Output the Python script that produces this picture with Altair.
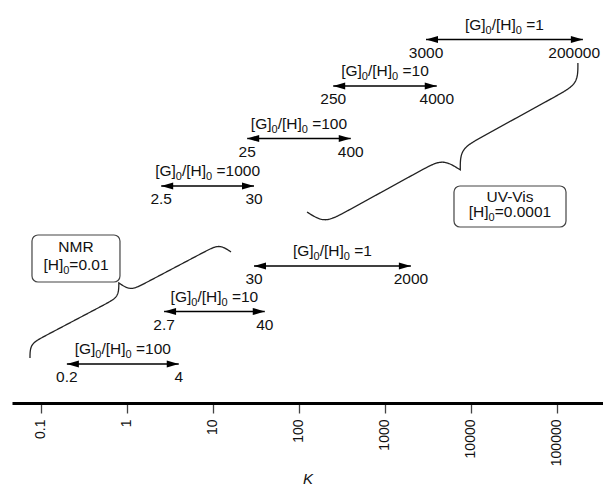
import numpy as np
import pandas as pd
import altair as alt

FONT = "Liberation Sans"
MAIN, SUB = 15.5, 11

# ---------------- data ----------------
ratio_value = ["1", "10", "100", "1000", "1", "10", "100"]
k_low = [3000, 250, 25, 2.5, 30, 2.7, 0.2]
k_high = [200000, 4000, 400, 30, 2000, 40, 4]
k_low_text = ["3000", "250", "25", "2.5", "30", "2.7", "0.2"]
k_high_text = ["200000", "4000", "400", "30", "2000", "40", "4"]
row_level = [7.27, 6.34, 5.29, 4.34, 2.74, 1.83, 0.78]

tick_values = [0.1, 1, 10, 100, 1000, 10000, 100000]
k_domain = [10 ** -1.337, 10 ** 5.535]
level_domain = [0, 8.06]

box_line1 = ["NMR", "UV-Vis"]
box_conc = ["0.01", "0.0001"]
box_k0 = [0.0786, 6344]
box_k1 = [0.829, 127300]
box_top = [3.36, 4.34]
box_bottom = [2.42, 3.52]
box_line1_level = [3.02, 4.02]
box_line2_level = [2.66, 3.72]

brace_k0 = [0.0745, 124]
brace_k1 = [16.2, 175000]
brace_lev0 = [0.9, 3.82]
brace_lev1 = [3.02, 6.8]
brace_depth = [25, 37]
brace_side = [1, -1]
brace_sharp = [0.3, 0.2]

PW, PH = 591, 403

# ---------------- helpers ----------------
lmin, lmax = np.log10(k_domain)
ymin, ymax = level_domain


def to_px(k, lev):
    return ((np.log10(k) - lmin) / (lmax - lmin) * PW,
            PH - (lev - ymin) / (ymax - ymin) * PH)


def from_px(x, y):
    return (10 ** (lmin + np.asarray(x) / PW * (lmax - lmin)),
            ymin + (PH - np.asarray(y)) / PH * (ymax - ymin))


# Arial / Liberation Sans advance widths (per 1000 em)
ADV = {"[": 278, "]": 278, "G": 778, "H": 722, "/": 278, " ": 278, "=": 584,
       ".": 278, "-": 333}


def text_w(s, size):
    return sum(ADV.get(c, 556) for c in s) / 1000 * size


def layout_pieces(pieces, k_center, level, group):
    """pieces: list of (text, kind); kind 'main', 'sub' or 'gap'."""
    widths = [text_w(t, MAIN if kind != "sub" else SUB) for t, kind in pieces]
    cx, _ = to_px(k_center, level)
    x = cx - sum(widths) / 2
    out = []
    for (t, kind), w in zip(pieces, widths):
        if kind != "gap":
            kk, _ = from_px(x, 0)
            out.append({"text": t, "kind": kind, "k": float(kk), "level": level,
                        "group": group})
        x += w
    return out


# ---------------- tables ----------------
arrows = pd.DataFrame({
    "k_low": k_low, "k_high": k_high, "low_text": k_low_text,
    "high_text": k_high_text, "level": row_level,
})
# keep endpoint labels inside the canvas
hx, _ = to_px(arrows["k_high"].values, 0)
hw = np.array([text_w(t, MAIN) for t in k_high_text])
arrows["k_high_anchor"] = from_px(np.minimum(hx, PW - hw / 2 - 3), 0)[0]

label_rows = []
for i, v in enumerate(ratio_value):
    kc = np.sqrt(k_low[i] * k_high[i])
    label_rows += layout_pieces(
        [("[G]", "main"), ("0", "sub"), ("/[H]", "main"), ("0", "sub"),
         (" ", "gap"), ("=" + v, "main")], kc, row_level[i], i)
labels = pd.DataFrame(label_rows)

boxes = pd.DataFrame({
    "line1": box_line1, "k0": box_k0, "k1": box_k1,
    "top": box_top, "bottom": box_bottom, "l1": box_line1_level,
})
boxes["kc"] = np.sqrt(boxes["k0"] * boxes["k1"])
box_rows = []
for i, c in enumerate(box_conc):
    box_rows += layout_pieces([("[H]", "main"), ("0", "sub"), ("=" + c, "main")],
                              boxes["kc"][i], box_line2_level[i], i)
box_pieces = pd.DataFrame(box_rows)

brace_rows = []
for b in range(len(brace_k0)):
    x0, y0 = to_px(brace_k0[b], brace_lev0[b])
    x1, y1 = to_px(brace_k1[b], brace_lev1[b])
    L = np.hypot(x1 - x0, y1 - y0)
    dx, dy = (x1 - x0) / L, (y1 - y0) / L
    nx, ny = dy * brace_side[b], -dx * brace_side[b]
    s = np.linspace(0, L, 401)
    half = L / 2
    sm = np.minimum(s, L - s)
    beta = brace_sharp[b]
    f = 1 / (1 + np.exp(-beta * sm)) + 1 / (1 + np.exp(-beta * (sm - half))) - 0.5
    f = f - f[0]
    f = f / f.max()
    off = brace_depth[b] * f
    kk, ll = from_px(x0 + dx * s + nx * off, y0 + dy * s + ny * off)
    for i in range(len(s)):
        brace_rows.append({"brace": b, "i": i, "k": kk[i], "level": ll[i]})
braces = pd.DataFrame(brace_rows)

# ---------------- chart ----------------
xscale = alt.Scale(type="log", domain=k_domain, nice=False, zero=False)
yscale = alt.Scale(domain=level_domain, nice=False, zero=False)

x_axis = alt.Axis(
    values=tick_values, format="~g", labelAngle=270, labelFontSize=14,
    labelFont=FONT, labelColor="#111", labelPadding=6, tickSize=10,
    tickColor="#444", tickWidth=1.3, domainColor="black", domainWidth=3,
    grid=False, title="K", titleFont=FONT, titleFontSize=15,
    titleFontStyle="italic", titleFontWeight="normal", titleColor="#111",
    titlePadding=6,
)


def X(f):
    return alt.X(f, scale=xscale)


def Y(f):
    return alt.Y(f, scale=yscale)


base = alt.Chart(arrows)
rules = base.mark_rule(color="black", strokeWidth=1.4).encode(
    x=alt.X("k_low:Q", scale=xscale, axis=x_axis),
    x2="k_high:Q",
    y=alt.Y("level:Q", scale=yscale, axis=None),
)
head_r = base.mark_point(shape="M0,0L-1,-0.3L-1,0.3Z", filled=True, size=576,
                         color="black", opacity=1).encode(x=X("k_high:Q"), y=Y("level:Q"))
head_l = base.mark_point(shape="M0,0L1,-0.3L1,0.3Z", filled=True, size=576,
                         color="black", opacity=1).encode(x=X("k_low:Q"), y=Y("level:Q"))

ctr = dict(font=FONT, fontSize=MAIN, color="#111", align="center", baseline="alphabetic")
low_txt = base.mark_text(dy=18, **ctr).encode(x=X("k_low:Q"), y=Y("level:Q"), text="low_text:N")
high_txt = base.mark_text(dy=18, **ctr).encode(x=X("k_high_anchor:Q"), y=Y("level:Q"),
                                               text="high_text:N")

lab = alt.Chart(labels)
lab_main = lab.transform_filter(alt.datum.kind == "main").mark_text(
    font=FONT, fontSize=MAIN, color="#111", align="left", baseline="alphabetic", dy=-10
).encode(x=X("k:Q"), y=Y("level:Q"), text="text:N")
lab_sub = lab.transform_filter(alt.datum.kind == "sub").mark_text(
    font=FONT, fontSize=SUB, color="#111", align="left", baseline="alphabetic", dy=-6
).encode(x=X("k:Q"), y=Y("level:Q"), text="text:N")

brace_lines = alt.Chart(braces).mark_line(color="#222", strokeWidth=1.3).encode(
    x=X("k:Q"), y=Y("level:Q"), detail="brace:N", order="i:Q")

bchart = alt.Chart(boxes)
box_rect = bchart.mark_rect(fill="white", stroke="#444", strokeWidth=1.2,
                            cornerRadius=6).encode(
    x=X("k0:Q"), x2="k1:Q", y=Y("top:Q"), y2="bottom:Q")
box_t1 = bchart.mark_text(**ctr).encode(x=X("kc:Q"), y=Y("l1:Q"), text="line1:N")

bp = alt.Chart(box_pieces)
box_main = bp.transform_filter(alt.datum.kind == "main").mark_text(
    font=FONT, fontSize=MAIN, color="#111", align="left", baseline="alphabetic"
).encode(x=X("k:Q"), y=Y("level:Q"), text="text:N")
box_sub = bp.transform_filter(alt.datum.kind == "sub").mark_text(
    font=FONT, fontSize=SUB, color="#111", align="left", baseline="alphabetic", dy=4
).encode(x=X("k:Q"), y=Y("level:Q"), text="text:N")

chart = alt.layer(
    rules, head_r, head_l, low_txt, high_txt, lab_main, lab_sub,
    brace_lines, box_rect, box_t1, box_main, box_sub,
).properties(
    width=PW, height=PH,
    padding={"left": 12, "top": 0, "right": 0, "bottom": 85},
    autosize=alt.AutoSizeParams(type="none"),
    background="white",
).configure_view(stroke=None)

chart.save("out.html", embed_options={"renderer": "svg", "actions": False})
